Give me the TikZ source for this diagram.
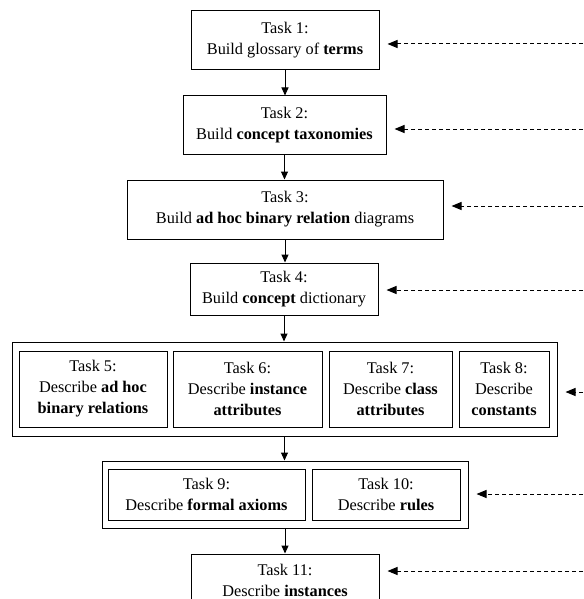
\documentclass[tikz,border=0pt]{standalone}
\usepackage{fontspec}
\setmainfont{Liberation Serif}
\usetikzlibrary{arrows.meta}
\begin{document}
\begin{tikzpicture}[x=1pt,y=-1pt,
  task/.style={draw, line width=1pt, align=center, inner sep=0pt,
    font=\fontsize{16.3}{21}\selectfont},
  grp/.style={draw, line width=1pt, inner sep=0pt},
  flow/.style={line width=1pt, -{Triangle[length=8pt,width=7pt]}},
  feed/.style={line width=1pt, dash pattern=on 4pt off 3pt,
    shorten >=8pt, -{Triangle[length=10pt,width=8pt]}}]
\useasboundingbox (0,0) rectangle (583,599);
\clip (0,0) rectangle (583,599);

% sequential tasks
\node[task, minimum width=188pt, minimum height=59pt] (t1) at (285,40.5)
  {Task 1:\\Build glossary of \textbf{terms}};
\node[task, minimum width=203pt, minimum height=58pt] (t2) at (284.5,125)
  {Task 2:\\Build \textbf{concept taxonomies}};
\node[task, minimum width=316pt, minimum height=59pt] (t3) at (285,209.5)
  {Task 3:\\Build \textbf{ad hoc binary relation} diagrams};
\node[task, minimum width=188pt, minimum height=52pt] (t4) at (284,289)
  {Task 4:\\Build \textbf{concept} dictionary};

% first group: tasks 5 to 8
\node[grp, minimum width=545pt, minimum height=94pt] (g1) at (284.5,389) {};
\node[task, minimum width=148pt, minimum height=76pt] (t5) at (93,389)
  {Task 5:\\Describe \textbf{ad hoc}\\\textbf{binary relations}};
\node[task, minimum width=149pt, minimum height=76pt] (t6) at (247.5,389)
  {Task 6:\\Describe \textbf{instance}\\\textbf{attributes}};
\node[task, minimum width=123pt, minimum height=76pt] (t7) at (390.5,389)
  {Task 7:\\Describe \textbf{class}\\\textbf{attributes}};
\node[task, minimum width=90pt, minimum height=76pt] (t8) at (504,389)
  {Task 8:\\Describe\\\textbf{constants}};

% second group: tasks 9 and 10
\node[grp, minimum width=366pt, minimum height=67pt] (g2) at (285,494.5) {};
\node[task, minimum width=197pt, minimum height=51pt] (t9) at (206.5,494.5)
  {Task 9:\\Describe \textbf{formal axioms}};
\node[task, minimum width=148pt, minimum height=51pt] (t10) at (386,494.5)
  {Task 10:\\Describe \textbf{rules}};

% last task
\node[task, minimum width=188pt, minimum height=52pt] (t11) at (285,580)
  {Task 11:\\Describe \textbf{instances}};

% main flow
\draw[flow] (t1.south) -- (t1.south |- t2.north);
\draw[flow] (t2.south) -- (t2.south |- t3.north);
\draw[flow] (t3.south) -- (t3.south |- t4.north);
\draw[flow] (t4.south) -- (t4.south |- g1.north);
\draw[flow] (g1.south) -- (g1.south |- g2.north);
\draw[flow] (g2.south) -- (g2.south |- t11.north);

% incoming feeds from the right
\coordinate (s1) at (590,44);
\coordinate (s2) at (590,129);
\coordinate (s3) at (590,206);
\coordinate (s4) at (590,290);
\coordinate (s5) at (590,392);
\coordinate (s6) at (590,494);
\coordinate (s7) at (590,571);
\draw[feed] (s1) -- (s1 -| t1.east);
\draw[feed] (s2) -- (s2 -| t2.east);
\draw[feed] (s3) -- (s3 -| t3.east);
\draw[feed] (s4) -- (s4 -| t4.east);
\draw[feed] (s5) -- (s5 -| g1.east);
\draw[feed] (s6) -- (s6 -| g2.east);
\draw[feed] (s7) -- (s7 -| t11.east);
\end{tikzpicture}
\end{document}
